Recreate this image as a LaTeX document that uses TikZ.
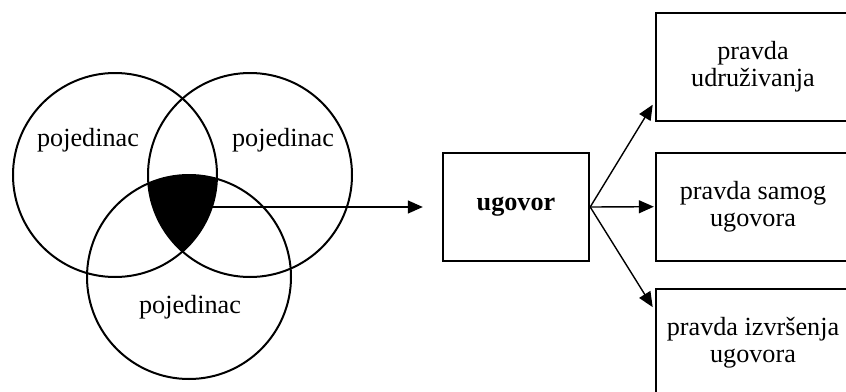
\documentclass[tikz,border=0pt]{standalone}
\usepackage{fontspec}
\setmainfont{Liberation Serif}
\usetikzlibrary{arrows.meta}
\begin{document}
\begin{tikzpicture}[x=0.5pt,y=-0.5pt,
  ring/.style={circle,draw,line width=1pt,minimum size=102pt,inner sep=0pt},
  lbl/.style={font=\fontsize{13.1}{13.5}\selectfont,inner sep=0pt,align=center},
  box/.style={draw,line width=1.2pt,minimum width=73pt,minimum height=54pt,inner sep=0pt},
  rbox/.style={draw,line width=1.2pt,minimum width=97pt,minimum height=54pt,inner sep=0pt,align=center,font=\fontsize{13.1}{13.5}\selectfont},
  arr/.style={line width=0.7pt,-{Triangle[length=7.5pt,width=6.5pt]}}]
\useasboundingbox (0,0) rectangle (846,391);
% black core
\begin{scope}
  \clip (115,175) circle[radius=51pt];
  \clip (250,175) circle[radius=51pt];
  \fill (189,277) circle[radius=51pt];
\end{scope}
\node[ring] (c1) at (115,175) {};
\node[ring] (c2) at (250,175) {};
\node[ring] (c3) at (189,277) {};
\node[lbl] (t1) at (88,140) {pojedinac};
\node[lbl] (t2) at (283,140) {pojedinac};
\node[lbl] (t3) at (190,307) {pojedinac};
\coordinate (core) at (190,207);
\node[box,font=\fontsize{13.1}{13.5}\selectfont\bfseries] (u) at (516,207) {ugovor};
\node[rbox] (b1) at (753,66.7) {pravda\\udruživanja};
\node[rbox] (b2) at (753,206.7) {pravda samog\\ugovora};
\node[rbox] (b3) at (753,342.7) {pravda izvršenja\\ugovora};
\draw[arr,shorten >=9.5pt] (core) -- (u.west);
\draw[arr,shorten >=2pt] (u.east) -- ([yshift=10.3pt]b1.south west);
\draw[arr,shorten >=0.5pt] (u.east) -- (b2.west);
\draw[arr,shorten >=2pt] (u.east) -- ([yshift=-11.5pt]b3.north west);
\end{tikzpicture}
\end{document}
